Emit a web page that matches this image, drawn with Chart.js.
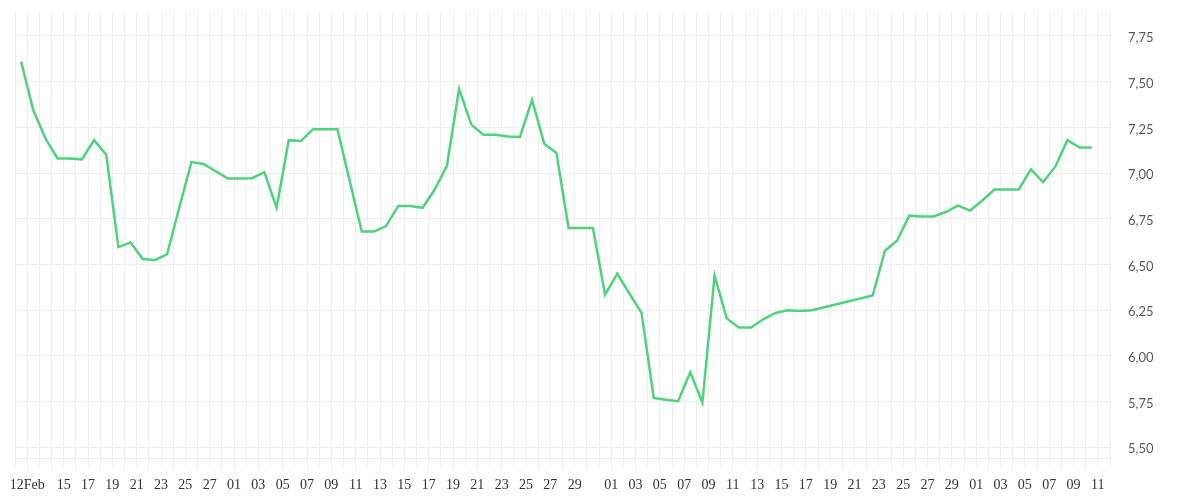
<!DOCTYPE html>
<html>
<head>
<meta charset="utf-8">
<script src="https://cdn.jsdelivr.net/npm/chart.js@4"></script>
<style>
  body { margin: 0; background: #fff; }
  #wrap { width: 1200px; height: 500px; }
</style>
</head>
<body>
<div id="wrap"><canvas id="rateChart"></canvas></div>
<script>
// daily values, one point per date (gaps are joined by straight lines)
const dates = [
  "2023-02-11", "2023-02-12", "2023-02-13", "2023-02-14", "2023-02-15", "2023-02-16", "2023-02-17", "2023-02-18",
  "2023-02-19", "2023-02-20", "2023-02-21", "2023-02-22", "2023-02-23", "2023-02-24", "2023-02-25", "2023-02-26",
  "2023-02-27", "2023-02-28", "2023-03-01", "2023-03-02", "2023-03-03", "2023-03-04", "2023-03-05", "2023-03-06",
  "2023-03-07", "2023-03-08", "2023-03-09", "2023-03-10", "2023-03-11", "2023-03-12", "2023-03-13", "2023-03-14",
  "2023-03-15", "2023-03-16", "2023-03-17", "2023-03-18", "2023-03-19", "2023-03-20", "2023-03-21", "2023-03-22",
  "2023-03-23", "2023-03-24", "2023-03-25", "2023-03-26", "2023-03-27", "2023-03-28", "2023-03-29", "2023-03-30",
  "2023-03-31", "2023-04-01", "2023-04-02", "2023-04-03", "2023-04-04", "2023-04-05", "2023-04-06", "2023-04-07",
  "2023-04-08", "2023-04-09", "2023-04-10", "2023-04-11", "2023-04-12", "2023-04-13", "2023-04-14", "2023-04-15",
  "2023-04-16", "2023-04-17", "2023-04-22", "2023-04-23", "2023-04-24", "2023-04-25", "2023-04-26", "2023-04-27",
  "2023-04-28", "2023-04-29", "2023-04-30", "2023-05-01", "2023-05-02", "2023-05-03", "2023-05-04", "2023-05-05",
  "2023-05-06", "2023-05-07", "2023-05-08", "2023-05-09", "2023-05-10"
];
const values = [
  7.61, 7.345, 7.19, 7.08, 7.08, 7.075, 7.18, 7.10,
  6.595, 6.62, 6.53, 6.525, 6.555, 6.81, 7.06, 7.05,
  7.01, 6.97, 6.97, 6.972, 7.005, 6.81, 7.18, 7.175,
  7.24, 7.24, 7.24, 6.96, 6.68, 6.68, 6.71, 6.82,
  6.82, 6.81, 6.91, 7.04, 7.46, 7.265, 7.21, 7.21,
  7.20, 7.197, 7.40, 7.16, 7.11, 6.70, 6.70, 6.70,
  6.335, 6.45, 6.34, 6.235, 5.77, 5.76, 5.752, 5.91,
  5.745, 6.44, 6.205, 6.155, 6.155, 6.20, 6.235, 6.25,
  6.245, 6.25, 6.33, 6.575, 6.63, 6.767, 6.763, 6.763,
  6.787, 6.822, 6.795, 6.85, 6.91, 6.91, 6.91, 7.02,
  6.95, 7.035, 7.18, 7.14, 7.14
];

// x axis labels (day of month), first one carries the month
const febTicks = [12, 15, 17, 19, 21, 23, 25, 27];
const marTicks = [1, 3, 5, 7, 9, 11, 13, 15, 17, 19, 21, 23, 25, 27, 29];
const aprTicks = [1, 3, 5, 7, 9, 11, 13, 15, 17, 19, 21, 23, 25, 27, 29];
const mayTicks = [1, 3, 5, 7, 9, 11];

const yTicks = [5.5, 5.75, 6, 6.25, 6.5, 6.75, 7, 7.25, 7.5, 7.75];

const startDate = "2023-02-11";
const endDate = "2023-05-12";
const DAY = 86400000;

function dayIndex(str) {
  return (Date.parse(str + "T00:00:00Z") - Date.parse(startDate + "T00:00:00Z")) / DAY;
}

const pad = n => (n < 10 ? "0" + n : "" + n);
const tickLabels = {};
[["02", febTicks], ["03", marTicks], ["04", aprTicks], ["05", mayTicks]].forEach(([m, days]) => {
  days.forEach(d => {
    tickLabels[dayIndex("2023-" + m + "-" + pad(d))] = pad(d);
  });
});
tickLabels[dayIndex("2023-02-12")] = "12Feb";

const lastDay = dayIndex(endDate);

// points sit in the middle of their day
const points = dates.map((d, i) => ({ x: dayIndex(d) + 0.5, y: values[i] }));

new Chart(document.getElementById("rateChart"), {
  type: "line",
  data: {
    datasets: [
      {
        data: points,
        borderColor: "#4fd27e",
        borderWidth: 2.5,
        pointRadius: 0,
        tension: 0,
        fill: false,
      },
    ],
  },
  options: {
    responsive: true,
    maintainAspectRatio: false,
    animation: false,
    layout: {
      padding: { top: 12, left: 15, right: 0, bottom: 0 },
    },
    plugins: {
      legend: { display: false },
      tooltip: { enabled: false },
    },
    scales: {
      x: {
        type: "linear",
        min: 0,
        max: lastDay,
        afterBuildTicks: (axis) => {
          const t = [];
          for (let k = 0; k <= lastDay; k++) t.push({ value: k });
          axis.ticks = t;
        },
        afterFit: (axis) => {
          axis.height = 41.3;
          axis.paddingLeft = 0;
          axis.paddingRight = 0;
        },
        grid: {
          color: "#eeeeee",
          lineWidth: 1,
          drawTicks: true,
          tickLength: 10,
        },
        border: { color: "#eeeeee" },
        ticks: {
          autoSkip: false,
          maxRotation: 0,
          padding: 8,
          color: "#333",
          font: { family: "Liberation Serif", size: 14 },
          callback: (v) => tickLabels[v] || "",
        },
      },
      y: {
        position: "right",
        min: 5.4376,
        max: 7.881,
        afterBuildTicks: (axis) => {
          axis.ticks = yTicks.map(v => ({ value: v }));
        },
        afterFit: (axis) => {
          axis.width = 90;
          axis.paddingTop = 0;
          axis.paddingBottom = 0;
        },
        grid: {
          color: "#eeeeee",
          lineWidth: 1,
          drawTicks: false,
        },
        border: { display: false },
        ticks: {
          padding: 18,
          labelOffset: 2,
          color: "#5a5a5a",
          font: { family: "Lato", size: 13 },
          callback: (v) => v.toFixed(2).replace(".", ","),
        },
      },
    },
  },
});
</script>
</body>
</html>
